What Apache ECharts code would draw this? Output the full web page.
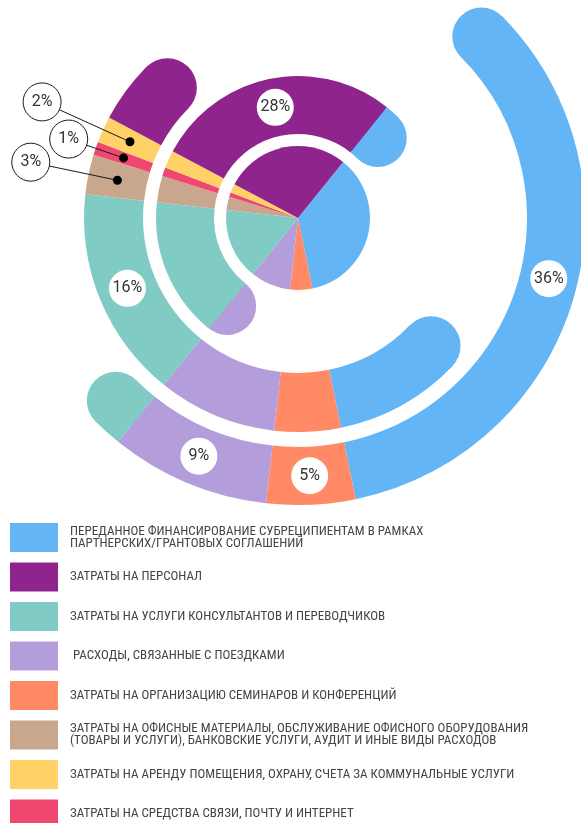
<!DOCTYPE html>
<html><head><meta charset="utf-8">
<script src="https://cdn.jsdelivr.net/npm/echarts@6/dist/echarts.min.js"></script>
<style>html,body{margin:0;padding:0;background:#fff}#c{width:581px;height:823px}</style>
</head><body><div id="c"></div>
<script>
// ---- data (legend order) ----
const legendNames = [
  'ПЕРЕДАННОЕ ФИНАНСИРОВАНИЕ СУБРЕЦИПИЕНТАМ В РАМКАХ ПАРТНЕРСКИХ/ГРАНТОВЫХ СОГЛАШЕНИЙ',
  'ЗАТРАТЫ НА ПЕРСОНАЛ',
  'ЗАТРАТЫ НА УСЛУГИ КОНСУЛЬТАНТОВ И ПЕРЕВОДЧИКОВ',
  ' РАСХОДЫ, СВЯЗАННЫЕ С ПОЕЗДКАМИ',
  'ЗАТРАТЫ НА ОРГАНИЗАЦИЮ СЕМИНАРОВ И КОНФЕРЕНЦИЙ',
  'ЗАТРАТЫ НА ОФИСНЫЕ МАТЕРИАЛЫ, ОБСЛУЖИВАНИЕ ОФИСНОГО ОБОРУДОВАНИЯ (ТОВАРЫ И УСЛУГИ), БАНКОВСКИЕ УСЛУГИ, АУДИТ И ИНЫЕ ВИДЫ РАСХОДОВ',
  'ЗАТРАТЫ НА АРЕНДУ ПОМЕЩЕНИЯ, ОХРАНУ, СЧЕТА ЗА КОММУНАЛЬНЫЕ УСЛУГИ',
  'ЗАТРАТЫ НА СРЕДСТВА СВЯЗИ, ПОЧТУ И ИНТЕРНЕТ'
];
const shareValues = [36, 28, 16, 9, 5, 3, 2, 1];
// order of slices, clockwise (indices into legendNames)
const clockwiseOrder = [0, 4, 3, 2, 5, 7, 6, 1];
// visible extent of each ring, in % of the circle from the start of the first slice
const ringStart = [50, 26.4, 1.8];
const ringEnd = [101.7, 76.7, 51.7];
// ring on which each share's label sits (legend order)
const labelRing = [2, 0, 1, 2, 2, 1, 1, 1];
// shares labelled outside with a leader line
const calloutShares = [5, 6, 7];

// ---- style / layout ----
const colors = ['#64B5F6', '#8E248C', '#80CBC4', '#B39DDB', '#FF8A65', '#C9A78F', '#FFD166', '#EF476F'];
const CX = 298, CY = 218, PIE_R = 72, START_DEG = 38.8;
const RINGS = [[84, 142], [155, 214], [229, 287]];
const calloutR = {5: 273, 6: 281, 7: 242.5};
const FONT = 'Roboto, "Noto Sans", sans-serif';
const LEGEND_FONT = '"Liberation Sans Narrow", "Roboto Condensed", "DejaVu Sans Condensed", Roboto, sans-serif';

let acc = 0;
const slices = clockwiseOrder.map(i => { const s = acc; acc += shareValues[i]; return {i, s, e: acc}; });
const mid = k => (RINGS[k][0] + RINGS[k][1]) / 2;
const sliceAt = v => { v = ((v % 100) + 100) % 100; return slices.find(sl => v >= sl.s && v < sl.e) || slices[0]; };

function ringData(k) {
  const s = ringStart[k], e = ringEnd[k], out = [];
  for (const shift of [0, 100]) for (const sl of slices) {
    const a = Math.max(s, sl.s + shift), b = Math.min(e, sl.e + shift);
    if (b > a + 1e-9) out.push({name: legendNames[sl.i], value: b - a, itemStyle: {color: colors[sl.i]}});
  }
  out.push({name: '', value: 100 - (e - s), itemStyle: {color: 'rgba(0,0,0,0)'}});
  return out;
}

const series = [];
// center pie
series.push({
  type: 'pie', center: [CX, CY], radius: [0, PIE_R], startAngle: 90 - START_DEG,
  silent: true, animation: false, z: 2,
  label: {show: false}, labelLine: {show: false},
  itemStyle: {borderWidth: 0},
  data: slices.map(sl => ({name: legendNames[sl.i], value: shareValues[sl.i], itemStyle: {color: colors[sl.i]}}))
});
// rings
RINGS.forEach((rr, k) => {
  let sa = 90 - (START_DEG + 3.6 * ringStart[k]);
  sa = ((sa % 360) + 360) % 360;
  series.push({
    type: 'pie', center: [CX, CY], radius: rr, startAngle: sa,
    silent: true, animation: false, z: 2, legendHoverLink: false,
    label: {show: false}, labelLine: {show: false}, itemStyle: {borderWidth: 0},
    data: ringData(k)
  });
});
// round caps at the ring ends
const caps = [];
RINGS.forEach((rr, k) => {
  const w = rr[1] - rr[0];
  [ringStart[k], ringEnd[k]].forEach(v => {
    const sl = sliceAt(v - 0.01);
    caps.push({value: [mid(k), ((v % 100) + 100) % 100], symbolSize: w, itemStyle: {color: colors[sl.i], opacity: 1}});
  });
});
series.push({type: 'scatter', coordinateSystem: 'polar', symbol: 'circle', silent: true, animation: false, z: 1,
  itemStyle: {opacity: 1}, data: caps});

// leader lines
calloutShares.forEach(i => {
  const sl = slices.find(x => x.i === i), a = (sl.s + sl.e) / 2;
  series.push({
    type: 'line', coordinateSystem: 'polar', symbol: 'none', silent: true, animation: false, z: 3,
    lineStyle: {color: '#1a1a1a', width: 1},
    data: [[mid(labelRing[i]), a], [calloutR[i], a]]
  });
});
// dots
series.push({
  type: 'scatter', coordinateSystem: 'polar', symbol: 'circle', symbolSize: 9, silent: true, animation: false, z: 4,
  itemStyle: {color: '#000', opacity: 1},
  data: calloutShares.map(i => { const sl = slices.find(x => x.i === i); return [mid(labelRing[i]), (sl.s + sl.e) / 2]; })
});
// labels
const labelStyle = {show: true, position: 'inside', color: '#333', fontSize: 16, fontFamily: FONT};
series.push({
  type: 'scatter', coordinateSystem: 'polar', symbol: 'circle', silent: true, animation: false, z: 5,
  label: labelStyle, itemStyle: {opacity: 1},
  data: slices.map(sl => {
    const i = sl.i, a = (sl.s + sl.e) / 2, call = calloutShares.includes(i);
    return {
      value: [call ? calloutR[i] : mid(labelRing[i]), a],
      symbolSize: call ? 38 : 37,
      itemStyle: call ? {color: '#fff', borderColor: '#1a1a1a', borderWidth: 1, opacity: 1} : {color: '#fff', opacity: 1},
      label: {formatter: shareValues[i] + '%'}
    };
  })
});

const chart = echarts.init(document.getElementById('c'), null, {renderer: 'canvas'});
chart.setOption({
  animation: false,
  backgroundColor: '#fff',
  polar: {center: [CX, CY], radius: 300},
  radiusAxis: {type: 'value', min: 0, max: 300, show: false, axisLine: {show: false}, axisLabel: {show: false}, splitLine: {show: false}, axisTick: {show: false}},
  angleAxis: {type: 'value', min: 0, max: 100, startAngle: 90 - START_DEG, clockwise: true, show: false,
    axisLine: {show: false}, axisLabel: {show: false}, splitLine: {show: false}, axisTick: {show: false}},
  legend: {
    data: legendNames, orient: 'vertical', left: 10, top: 523, height: 320, padding: 0,
    itemWidth: 48, itemHeight: 29, itemGap: 10.5, icon: 'rect', selectedMode: false,
    formatter: n => n.replace(' ПАРТНЕРСКИХ', '\nПАРТНЕРСКИХ').replace(' (ТОВАРЫ', '\n(ТОВАРЫ'),
    textStyle: {fontFamily: LEGEND_FONT, fontSize: 13, color: '#444', lineHeight: 12, padding: [0, 0, 0, 7]}
  },
  series
});
</script></body></html>
